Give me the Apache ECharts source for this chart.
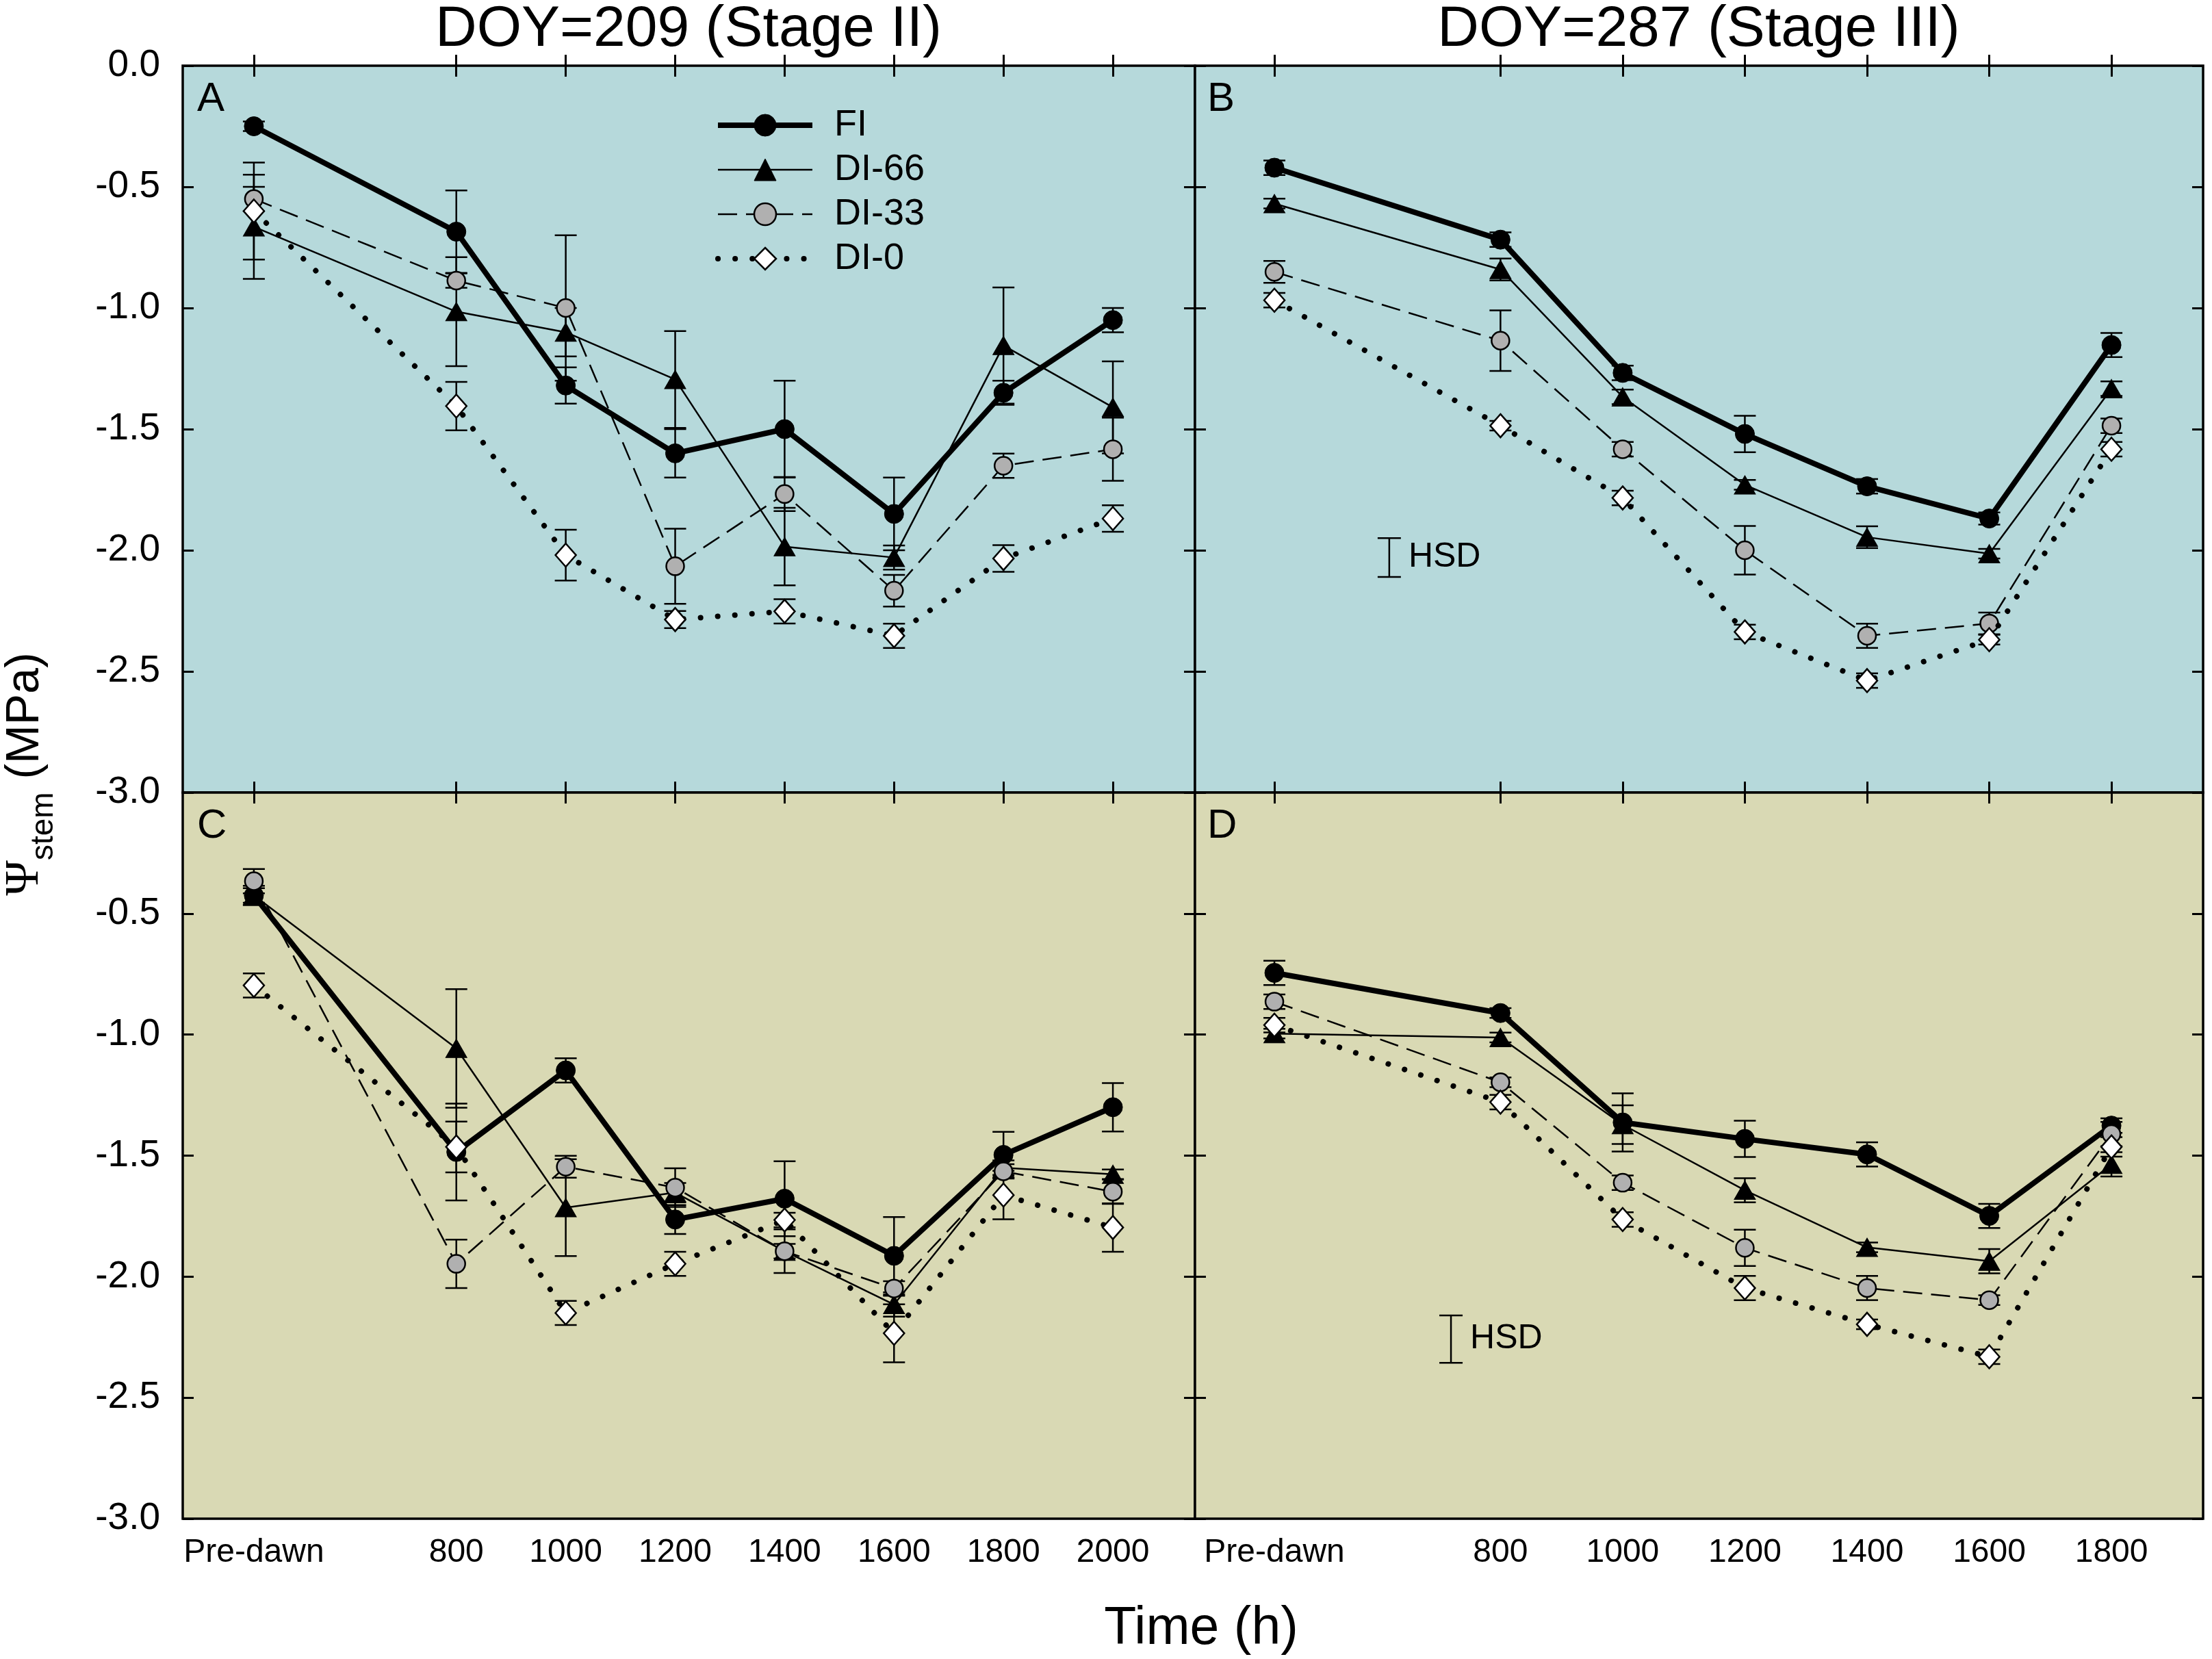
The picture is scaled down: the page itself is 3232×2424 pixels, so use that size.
<!DOCTYPE html>
<html>
<head>
<meta charset="utf-8"/>
<title>Stem water potential</title>
<script src="https://cdn.jsdelivr.net/npm/echarts@6.0.0/dist/echarts.min.js"></script>
<style>
  html, body { margin: 0; padding: 0; background: #fff; }
  #chart { width: 3232px; height: 2424px; }
</style>
</head>
<body>
<div id="chart"></div>
<script type="text/javascript">
// x position used for the "Pre-dawn" reading (value axis in hours)
var PREDAWN = 430;

var timesStage2 = [PREDAWN, 800, 1000, 1200, 1400, 1600, 1800, 2000];
var labelsStage2 = ['Pre-dawn', '800', '1000', '1200', '1400', '1600', '1800', '2000'];
var timesStage3 = [PREDAWN, 800, 1000, 1200, 1400, 1600, 1800];
var labelsStage3 = ['Pre-dawn', '800', '1000', '1200', '1400', '1600', '1800'];

var treatments = ['FI', 'DI-66', 'DI-33', 'DI-0'];

// panel A : DOY 209, upper
var aFI     = [-0.25, -0.685, -1.32, -1.60, -1.50, -1.85, -1.35, -1.05];
var aFIse   = [0.02, 0.17, 0.075, 0.10, 0.20, 0.15, 0.05, 0.05];
var aDI66   = [-0.665, -1.015, -1.10, -1.295, -1.985, -2.03, -1.155, -1.41];
var aDI66se = [0.215, 0.225, 0.10, 0.20, 0.16, 0.05, 0.24, 0.19];
var aDI33   = [-0.55, -0.887, -1.00, -2.066, -1.768, -2.167, -1.651, -1.583];
var aDI33se = [0.05, 0.03, 0.30, 0.155, 0.07, 0.065, 0.05, 0.13];
var aDI0    = [-0.60, -1.405, -2.02, -2.286, -2.252, -2.353, -2.034, -1.869];
var aDI0se  = [0.20, 0.10, 0.105, 0.035, 0.05, 0.05, 0.055, 0.055];

// panel B : DOY 287, upper
var bFI     = [-0.421, -0.718, -1.268, -1.52, -1.736, -1.869, -1.153];
var bFIse   = [0.03, 0.03, 0.03, 0.075, 0.03, 0.025, 0.05];
var bDI66   = [-0.569, -0.841, -1.367, -1.73, -1.946, -2.014, -1.333];
var bDI66se = [0.02, 0.045, 0.03, 0.02, 0.045, 0.02, 0.03];
var bDI33   = [-0.851, -1.135, -1.583, -2.0, -2.353, -2.302, -1.486];
var bDI33se = [0.045, 0.125, 0.03, 0.10, 0.05, 0.045, 0.03];
var bDI0    = [-0.968, -1.486, -1.784, -2.337, -2.538, -2.369, -1.583];
var bDI0se  = [0.03, 0.02, 0.03, 0.03, 0.03, 0.02, 0.03];

// panel C : DOY 209, lower
var cFI     = [-0.425, -1.485, -1.148, -1.764, -1.678, -1.914, -1.497, -1.30];
var cFIse   = [0.04, 0.20, 0.05, 0.06, 0.155, 0.16, 0.095, 0.10];
var cDI66   = [-0.425, -1.057, -1.715, -1.653, -1.895, -2.115, -1.55, -1.577];
var cDI66se = [0.03, 0.245, 0.20, 0.04, 0.03, 0.05, 0.03, 0.02];
var cDI33   = [-0.366, -1.947, -1.546, -1.632, -1.895, -2.049, -1.565, -1.649];
var cDI33se = [0.05, 0.10, 0.045, 0.08, 0.09, 0.03, 0.03, 0.05];
var cDI0    = [-0.797, -1.464, -2.15, -1.947, -1.766, -2.234, -1.663, -1.797];
var cDI0se  = [0.05, 0.105, 0.05, 0.05, 0.03, 0.12, 0.10, 0.10];

// panel D : DOY 287, lower
var dFI     = [-0.745, -0.911, -1.363, -1.431, -1.495, -1.749, -1.376];
var dFIse   = [0.05, 0.02, 0.12, 0.075, 0.05, 0.05, 0.03];
var dDI66   = [-0.996, -1.012, -1.372, -1.643, -1.879, -1.936, -1.536];
var dDI66se = [0.02, 0.02, 0.08, 0.05, 0.02, 0.05, 0.05];
var dDI33   = [-0.864, -1.197, -1.612, -1.881, -2.047, -2.097, -1.411];
var dDI33se = [0.03, 0.02, 0.03, 0.075, 0.05, 0.02, 0.05];
var dDI0    = [-0.961, -1.279, -1.764, -2.047, -2.197, -2.331, -1.464];
var dDI0se  = [0.03, 0.03, 0.03, 0.05, 0.02, 0.03, 0.04];

// HSD bars: [time, centre, half length]
var hsdB = [618, -2.03, 0.08];
var hsdD = [719, -2.258, 0.098];

var FONT = 'Liberation Sans, Arial, sans-serif';

var panels = [
  { times: timesStage2, labels: labelsStage2, min: 300, max: 2150, means: [aFI, aDI66, aDI33, aDI0], se: [aFIse, aDI66se, aDI33se, aDI0se], bg: '#b6d9db' },
  { times: timesStage3, labels: labelsStage3, min: 300, max: 1950, means: [bFI, bDI66, bDI33, bDI0], se: [bFIse, bDI66se, bDI33se, bDI0se], bg: '#b6d9db', hsd: hsdB },
  { times: timesStage2, labels: labelsStage2, min: 300, max: 2150, means: [cFI, cDI66, cDI33, cDI0], se: [cFIse, cDI66se, cDI33se, cDI0se], bg: '#d9d9b4' },
  { times: timesStage3, labels: labelsStage3, min: 300, max: 1950, means: [dFI, dDI66, dDI33, dDI0], se: [dFIse, dDI66se, dDI33se, dDI0se], bg: '#d9d9b4', hsd: hsdD }
];

var gridBoxes = [
  { left: 267, top: 96, width: 1479, height: 1062 },
  { left: 1746, top: 96, width: 1473, height: 1062 },
  { left: 267, top: 1158, width: 1479, height: 1061 },
  { left: 1746, top: 1158, width: 1473, height: 1061 }
];

var seriesStyle = {
  'FI':    { symbol: 'circle', symbolSize: 28, itemStyle: { color: '#000', borderColor: '#000', borderWidth: 1 }, lineStyle: { color: '#000', width: 8 } },
  'DI-66': { symbol: 'triangle', symbolSize: [31, 27], itemStyle: { color: '#000', borderColor: '#000', borderWidth: 1 }, lineStyle: { color: '#000', width: 2.5 } },
  'DI-33': { symbol: 'circle', symbolSize: 26, itemStyle: { color: '#b0b0b0', borderColor: '#000', borderWidth: 2.5 }, lineStyle: { color: '#000', width: 2.5, type: [28, 13] } },
  'DI-0':  { symbol: 'diamond', symbolSize: [30, 34], itemStyle: { color: '#fff', borderColor: '#000', borderWidth: 2.5 }, lineStyle: { color: '#000', width: 8, type: [0.1, 25], cap: 'round' } }
};

var tickStyle = { show: true, inside: true, length: 16, lineStyle: { color: '#000', width: 3 } };

var grids = [], xAxes = [], yAxes = [], series = [];

panels.forEach(function (p, g) {
  var box = gridBoxes[g];
  grids.push({
    left: box.left, top: box.top, width: box.width, height: box.height,
    containLabel: false, outerBoundsMode: 'none',
    show: true, backgroundColor: p.bg, borderColor: '#000', borderWidth: 3.5
  });

  var lower = g >= 2;
  var tickValues = p.times;
  var fmt = function (v) {
    var i = p.times.indexOf(v);
    return i >= 0 ? p.labels[i] : '';
  };
  // bottom axis (the one the data use) + mirrored top axis for ticks
  xAxes.push({
    type: 'value', gridIndex: g, position: 'bottom', min: p.min, max: p.max,
    axisLine: { show: false }, splitLine: { show: false },
    axisTick: Object.assign({ customValues: tickValues }, tickStyle),
    axisLabel: { show: lower, customValues: tickValues, formatter: fmt, margin: 26,
                 fontSize: 48, fontFamily: FONT, color: '#000' }
  });
  xAxes.push({
    type: 'value', gridIndex: g, position: 'top', min: p.min, max: p.max,
    axisLine: { show: false }, splitLine: { show: false },
    axisTick: Object.assign({ customValues: tickValues }, tickStyle),
    axisLabel: { show: false }
  });

  var leftCol = (g % 2 === 0);
  yAxes.push({
    type: 'value', gridIndex: g, position: 'left', min: -3, max: 0, interval: 0.5,
    axisLine: { show: false }, splitLine: { show: false },
    axisTick: tickStyle,
    axisLabel: { show: leftCol, showMaxLabel: !lower, showMinLabel: true, margin: 33,
                 fontSize: 55, fontFamily: FONT, color: '#000',
                 formatter: function (v) { return v.toFixed(1); } }
  });
  yAxes.push({
    type: 'value', gridIndex: g, position: 'right', min: -3, max: 0, interval: 0.5,
    axisLine: { show: false }, splitLine: { show: false },
    axisTick: tickStyle, axisLabel: { show: false }
  });

  // error bars first, so the markers sit on top
  treatments.forEach(function (name, k) {
    series.push({
      type: 'custom', xAxisIndex: 2 * g, yAxisIndex: 2 * g, silent: true, z: 1,
      encode: { x: 0, y: 1 },
      data: p.times.map(function (t, i) { return [t, p.means[k][i], p.se[k][i]]; }),
      renderItem: function (params, api) {
        var x = api.value(0), m = api.value(1), e = api.value(2);
        var hi = api.coord([x, m + e]);
        var lo = api.coord([x, m - e]);
        var w = 16;
        var st = { stroke: '#000', lineWidth: 2.5 };
        return { type: 'group', children: [
          { type: 'line', shape: { x1: hi[0], y1: hi[1], x2: lo[0], y2: lo[1] }, style: st },
          { type: 'line', shape: { x1: hi[0] - w, y1: hi[1], x2: hi[0] + w, y2: hi[1] }, style: st },
          { type: 'line', shape: { x1: lo[0] - w, y1: lo[1], x2: lo[0] + w, y2: lo[1] }, style: st }
        ] };
      }
    });
  });

  treatments.forEach(function (name, k) {
    var s = seriesStyle[name];
    series.push({
      type: 'line', name: name, xAxisIndex: 2 * g, yAxisIndex: 2 * g, z: 2 + k,
      data: p.times.map(function (t, i) { return [t, p.means[k][i]]; }),
      symbol: s.symbol, symbolSize: s.symbolSize,
      itemStyle: s.itemStyle, lineStyle: s.lineStyle,
      showAllSymbol: true
    });
  });

  if (p.hsd) {
    series.push({
      type: 'custom', xAxisIndex: 2 * g, yAxisIndex: 2 * g, silent: true, z: 6,
      encode: { x: 0, y: 1 },
      data: [p.hsd],
      renderItem: function (params, api) {
        var x = api.value(0), c = api.value(1), h = api.value(2);
        var top = api.coord([x, c + h]);
        var bot = api.coord([x, c - h]);
        var mid = api.coord([x, c]);
        var w = 17;
        var st = { stroke: '#000', lineWidth: 2.5 };
        return { type: 'group', children: [
          { type: 'line', shape: { x1: top[0], y1: top[1], x2: bot[0], y2: bot[1] }, style: st },
          { type: 'line', shape: { x1: top[0] - w, y1: top[1], x2: top[0] + w, y2: top[1] }, style: st },
          { type: 'line', shape: { x1: bot[0] - w, y1: bot[1], x2: bot[0] + w, y2: bot[1] }, style: st },
          { type: 'text', x: mid[0] + 28, y: mid[1],
            style: { text: 'HSD', fontSize: 50, fontFamily: FONT, fill: '#000', align: 'left', verticalAlign: 'middle' } }
        ] };
      }
    });
  }
});

// legend entries carry their own line style so the icon keeps the full width
var legendData = treatments.map(function (name) {
  var s = seriesStyle[name];
  return { name: name, lineStyle: s.lineStyle, itemStyle: s.itemStyle };
});

var chart = echarts.init(document.getElementById('chart'));
chart.setOption({
  animation: false,
  backgroundColor: '#fff',
  textStyle: { fontFamily: FONT },
  grid: grids,
  xAxis: xAxes,
  yAxis: yAxes,
  legend: {
    data: legendData, orient: 'vertical', left: 1040, top: 151,
    itemWidth: 138, itemHeight: 40, itemGap: 11, selectedMode: false,
    textStyle: { fontSize: 54, lineHeight: 54, fontFamily: FONT, color: '#000', padding: [0, 0, 0, 27] }
  },
  graphic: [
    { type: 'text', x: 1006, y: 44, style: { text: 'DOY=209 (Stage II)', fontSize: 84, fontFamily: FONT, fill: '#000', align: 'center', verticalAlign: 'middle' } },
    { type: 'text', x: 2482, y: 44, style: { text: 'DOY=287 (Stage III)', fontSize: 84, fontFamily: FONT, fill: '#000', align: 'center', verticalAlign: 'middle' } },
    { type: 'text', x: 1755, y: 2381, style: { text: 'Time (h)', fontSize: 77, fontFamily: FONT, fill: '#000', align: 'center', verticalAlign: 'middle' } },
    { type: 'text', x: 37, y: 1131, rotation: Math.PI / 2,
      style: {
        text: '{psi|Ψ}{sub|stem}{n| (MPa)}', align: 'center', verticalAlign: 'middle', fill: '#000',
        rich: {
          psi: { fontSize: 70, fontFamily: 'Liberation Serif, DejaVu Serif, serif', lineHeight: 100, verticalAlign: 'middle', fill: '#000' },
          sub: { fontSize: 46, fontFamily: FONT, lineHeight: 46, verticalAlign: 'bottom', fill: '#000' },
          n:   { fontSize: 68, fontFamily: FONT, lineHeight: 100, verticalAlign: 'middle', fill: '#000' }
        }
      } },
    { type: 'text', x: 288, y: 115, z: 10, style: { text: 'A', fontSize: 60, fontFamily: FONT, fill: '#000', verticalAlign: 'top' } },
    { type: 'text', x: 1764, y: 115, z: 10, style: { text: 'B', fontSize: 60, fontFamily: FONT, fill: '#000', verticalAlign: 'top' } },
    { type: 'text', x: 288, y: 1177, z: 10, style: { text: 'C', fontSize: 60, fontFamily: FONT, fill: '#000', verticalAlign: 'top' } },
    { type: 'text', x: 1764, y: 1177, z: 10, style: { text: 'D', fontSize: 60, fontFamily: FONT, fill: '#000', verticalAlign: 'top' } }
  ],
  series: series
});
</script>
</body>
</html>
